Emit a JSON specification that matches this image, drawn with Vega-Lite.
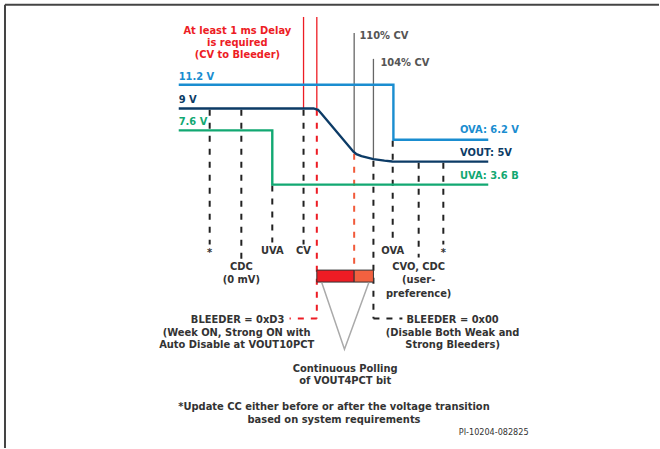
{
  "$schema": "https://vega.github.io/schema/vega-lite/v6.json",
  "width": 660,
  "height": 449,
  "autosize": {"type": "fit", "contains": "padding"},
  "padding": 0,
  "background": "white",
  "config": {"view": {"stroke": null}},
  "datasets": {
    "frame": [
      {"x": 5, "y": 4.7, "x2": 660, "y2": 4.7},
      {"x": 5, "y": 4.7, "x2": 5, "y2": 449}
    ],
    "delay": [
      {"x": 304, "y": 17, "x2": 304, "y2": 108.7},
      {"x": 317.3, "y": 17, "x2": 317.3, "y2": 108.7}
    ],
    "thresholds": [
      {"x": 354.7, "y": 33, "x2": 354.7, "y2": 152},
      {"x": 374, "y": 59, "x2": 374, "y2": 159}
    ],
    "markers": [
      {"x": 210, "y": 110, "x2": 210, "y2": 245},
      {"x": 241.7, "y": 110, "x2": 241.7, "y2": 262},
      {"x": 272.7, "y": 186, "x2": 272.7, "y2": 243},
      {"x": 304, "y": 110, "x2": 304, "y2": 245},
      {"x": 393.3, "y": 141, "x2": 393.3, "y2": 240},
      {"x": 419.3, "y": 163, "x2": 419.3, "y2": 258},
      {"x": 444, "y": 163, "x2": 444, "y2": 245},
      {"x": 374, "y": 161, "x2": 374, "y2": 319.3},
      {"x": 374, "y": 319.3, "x2": 403, "y2": 319.3}
    ],
    "bleedOn": [
      {"x": 317.3, "y": 110, "x2": 317.3, "y2": 319.3},
      {"x": 317.3, "y": 319.3, "x2": 290, "y2": 319.3}
    ],
    "poll": [
      {"x": 354.7, "y": 154, "x2": 354.7, "y2": 270.7}
    ],
    "rails": [
      {"level": "OVA", "o": 1, "x": 179, "y": 85},
      {"level": "OVA", "o": 2, "x": 394, "y": 85},
      {"level": "OVA", "o": 3, "x": 394, "y": 140},
      {"level": "OVA", "o": 4, "x": 489, "y": 140},
      {"level": "VOUT", "o": 1, "x": 179, "y": 108.7},
      {"level": "VOUT", "o": 2, "x": 314, "y": 108.7},
      {"level": "VOUT", "o": 3, "x": 318.5, "y": 110},
      {"level": "VOUT", "o": 4, "x": 322, "y": 114},
      {"level": "VOUT", "o": 5, "x": 354, "y": 152},
      {"level": "VOUT", "o": 6, "x": 357, "y": 154.5},
      {"level": "VOUT", "o": 7, "x": 362, "y": 156.5},
      {"level": "VOUT", "o": 8, "x": 374, "y": 159.5},
      {"level": "VOUT", "o": 9, "x": 385, "y": 161},
      {"level": "VOUT", "o": 10, "x": 393, "y": 161.8},
      {"level": "VOUT", "o": 11, "x": 489, "y": 162},
      {"level": "UVA", "o": 1, "x": 179, "y": 130.7},
      {"level": "UVA", "o": 2, "x": 272.7, "y": 130.7},
      {"level": "UVA", "o": 3, "x": 272.7, "y": 185},
      {"level": "UVA", "o": 4, "x": 489, "y": 185}
    ],
    "box": [
      {"part": "on", "x": 317.3, "x2": 354.7, "y": 270.7, "y2": 282.7},
      {"part": "poll", "x": 354.7, "x2": 374, "y": 270.7, "y2": 282.7}
    ],
    "funnel": [
      {"o": 1, "x": 322.3, "y": 283.3},
      {"o": 2, "x": 345, "y": 350},
      {"o": 3, "x": 369.3, "y": 283.3}
    ],
    "railLabels": [
      {"level": "OVA", "x": 179, "y": 76.7, "t": "11.2 V"},
      {"level": "VOUT", "x": 179, "y": 100, "t": "9 V"},
      {"level": "UVA", "x": 179, "y": 122.7, "t": "7.6 V"},
      {"level": "OVA", "x": 460.7, "y": 130.7, "t": "OVA: 6.2 V"},
      {"level": "VOUT", "x": 460.7, "y": 153.3, "t": "VOUT: 5V"},
      {"level": "UVA", "x": 460.7, "y": 176.7, "t": "UVA: 3.6 B"}
    ],
    "thrLabels": [
      {"x": 360, "y": 36, "t": "110% CV"},
      {"x": 381, "y": 63.3, "t": "104% CV"}
    ],
    "delayText": [
      {"x": 237.7, "y": 30.7, "t": "At least 1 ms Delay"},
      {"x": 237.7, "y": 43.3, "t": "is required"},
      {"x": 237.7, "y": 55, "t": "(CV to Bleeder)"}
    ],
    "notes": [
      {"x": 210, "y": 254, "t": "*"},
      {"x": 241.7, "y": 268, "t": "CDC"},
      {"x": 241.7, "y": 280.7, "t": "(0 mV)"},
      {"x": 272.7, "y": 251.7, "t": "UVA"},
      {"x": 304, "y": 251.7, "t": "CV"},
      {"x": 393.3, "y": 251.7, "t": "OVA"},
      {"x": 444, "y": 254, "t": "*"},
      {"x": 419.3, "y": 267.8, "t": "CVO, CDC"},
      {"x": 419.3, "y": 281, "t": "(user-"},
      {"x": 419.3, "y": 294.3, "t": "preference)"},
      {"x": 238, "y": 321, "t": "BLEEDER = 0xD3"},
      {"x": 237, "y": 333.3, "t": "(Week ON, Strong ON with"},
      {"x": 237, "y": 345.7, "t": "Auto Disable at VOUT10PCT"},
      {"x": 453.3, "y": 321, "t": "BLEEDER = 0x00"},
      {"x": 453.3, "y": 333.3, "t": "(Disable Both Weak and"},
      {"x": 453.3, "y": 345.7, "t": "Strong Bleeders)"},
      {"x": 345.7, "y": 370, "t": "Continuous Polling"},
      {"x": 345.7, "y": 382.3, "t": "of VOUT4PCT bit"},
      {"x": 334.5, "y": 408.3, "t": "*Update CC either before or after the voltage transition"},
      {"x": 334.5, "y": 420.7, "t": "based on system requirements"}
    ],
    "pi": [
      {"x": 459.5, "y": 433.3, "t": "PI-10204-082825"}
    ]
  },
  "layer": [
    {
      "data": {"name": "frame"},
      "mark": {"type": "rule", "color": "#444", "strokeWidth": 2},
      "encoding": {
        "x": {"field": "x", "type": "quantitative", "scale": {"domain": [0, 660], "nice": false, "zero": false}, "axis": null},
        "y": {"field": "y", "type": "quantitative", "scale": {"domain": [0, 449], "nice": false, "zero": false, "reverse": true}, "axis": null},
        "x2": {"field": "x2"},
        "y2": {"field": "y2"}
      }
    },
    {
      "data": {"name": "markers"},
      "mark": {"type": "rule", "color": "#222", "strokeWidth": 2, "strokeDash": [6, 7]},
      "encoding": {
        "x": {"field": "x", "type": "quantitative", "scale": {"domain": [0, 660], "nice": false, "zero": false}, "axis": null},
        "y": {"field": "y", "type": "quantitative", "scale": {"domain": [0, 449], "nice": false, "zero": false, "reverse": true}, "axis": null},
        "x2": {"field": "x2"},
        "y2": {"field": "y2"}
      }
    },
    {
      "data": {"name": "bleedOn"},
      "mark": {"type": "rule", "color": "#ed1c24", "strokeWidth": 2, "strokeDash": [6, 7]},
      "encoding": {
        "x": {"field": "x", "type": "quantitative", "scale": {"domain": [0, 660], "nice": false, "zero": false}, "axis": null},
        "y": {"field": "y", "type": "quantitative", "scale": {"domain": [0, 449], "nice": false, "zero": false, "reverse": true}, "axis": null},
        "x2": {"field": "x2"},
        "y2": {"field": "y2"}
      }
    },
    {
      "data": {"name": "poll"},
      "mark": {"type": "rule", "color": "#f15a3a", "strokeWidth": 2, "strokeDash": [6, 7]},
      "encoding": {
        "x": {"field": "x", "type": "quantitative", "scale": {"domain": [0, 660], "nice": false, "zero": false}, "axis": null},
        "y": {"field": "y", "type": "quantitative", "scale": {"domain": [0, 449], "nice": false, "zero": false, "reverse": true}, "axis": null},
        "x2": {"field": "x2"},
        "y2": {"field": "y2"}
      }
    },
    {
      "data": {"name": "delay"},
      "mark": {"type": "rule", "color": "#ed1c24", "strokeWidth": 1.3},
      "encoding": {
        "x": {"field": "x", "type": "quantitative", "scale": {"domain": [0, 660], "nice": false, "zero": false}, "axis": null},
        "y": {"field": "y", "type": "quantitative", "scale": {"domain": [0, 449], "nice": false, "zero": false, "reverse": true}, "axis": null},
        "x2": {"field": "x2"},
        "y2": {"field": "y2"}
      }
    },
    {
      "data": {"name": "thresholds"},
      "mark": {"type": "rule", "color": "#666", "strokeWidth": 1.3},
      "encoding": {
        "x": {"field": "x", "type": "quantitative", "scale": {"domain": [0, 660], "nice": false, "zero": false}, "axis": null},
        "y": {"field": "y", "type": "quantitative", "scale": {"domain": [0, 449], "nice": false, "zero": false, "reverse": true}, "axis": null},
        "x2": {"field": "x2"},
        "y2": {"field": "y2"}
      }
    },
    {
      "data": {"name": "rails"},
      "mark": {"type": "line", "strokeWidth": 2.4, "strokeJoin": "miter"},
      "encoding": {
        "x": {"field": "x", "type": "quantitative", "scale": {"domain": [0, 660], "nice": false, "zero": false}, "axis": null},
        "y": {"field": "y", "type": "quantitative", "scale": {"domain": [0, 449], "nice": false, "zero": false, "reverse": true}, "axis": null},
        "order": {"field": "o", "type": "quantitative"},
        "color": {"field": "level", "type": "nominal", "scale": {"domain": ["OVA", "VOUT", "UVA"], "range": ["#1a8dd0", "#0c3b66", "#12a872"]}, "legend": null}
      }
    },
    {
      "data": {"name": "box"},
      "mark": {"type": "rect", "stroke": "#333", "strokeWidth": 1},
      "encoding": {
        "x": {"field": "x", "type": "quantitative", "scale": {"domain": [0, 660], "nice": false, "zero": false}, "axis": null},
        "y": {"field": "y", "type": "quantitative", "scale": {"domain": [0, 449], "nice": false, "zero": false, "reverse": true}, "axis": null},
        "x2": {"field": "x2"},
        "y2": {"field": "y2"},
        "fill": {"field": "part", "type": "nominal", "scale": {"domain": ["on", "poll"], "range": ["#ed1c24", "#f26140"]}, "legend": null}
      }
    },
    {
      "data": {"name": "funnel"},
      "mark": {"type": "line", "color": "#aaaaaa", "strokeWidth": 1.5},
      "encoding": {
        "x": {"field": "x", "type": "quantitative", "scale": {"domain": [0, 660], "nice": false, "zero": false}, "axis": null},
        "y": {"field": "y", "type": "quantitative", "scale": {"domain": [0, 449], "nice": false, "zero": false, "reverse": true}, "axis": null},
        "order": {"field": "o", "type": "quantitative"}
      }
    },
    {
      "data": {"name": "railLabels"},
      "mark": {"type": "text", "align": "left", "baseline": "middle", "font": "DejaVu Sans Condensed, DejaVu Sans", "fontWeight": "bold", "fontSize": 11},
      "encoding": {
        "x": {"field": "x", "type": "quantitative", "scale": {"domain": [0, 660], "nice": false, "zero": false}, "axis": null},
        "y": {"field": "y", "type": "quantitative", "scale": {"domain": [0, 449], "nice": false, "zero": false, "reverse": true}, "axis": null},
        "text": {"field": "t"},
        "color": {"field": "level", "type": "nominal", "scale": {"domain": ["OVA", "VOUT", "UVA"], "range": ["#1a8dd0", "#0c3b66", "#12a872"]}, "legend": null}
      }
    },
    {
      "data": {"name": "thrLabels"},
      "mark": {"type": "text", "align": "left", "baseline": "middle", "font": "DejaVu Sans Condensed, DejaVu Sans", "fontWeight": "bold", "fontSize": 11, "color": "#555"},
      "encoding": {
        "x": {"field": "x", "type": "quantitative", "scale": {"domain": [0, 660], "nice": false, "zero": false}, "axis": null},
        "y": {"field": "y", "type": "quantitative", "scale": {"domain": [0, 449], "nice": false, "zero": false, "reverse": true}, "axis": null},
        "text": {"field": "t"}
      }
    },
    {
      "data": {"name": "delayText"},
      "mark": {"type": "text", "align": "center", "baseline": "middle", "font": "DejaVu Sans Condensed, DejaVu Sans", "fontWeight": "bold", "fontSize": 11, "color": "#ed1c24"},
      "encoding": {
        "x": {"field": "x", "type": "quantitative", "scale": {"domain": [0, 660], "nice": false, "zero": false}, "axis": null},
        "y": {"field": "y", "type": "quantitative", "scale": {"domain": [0, 449], "nice": false, "zero": false, "reverse": true}, "axis": null},
        "text": {"field": "t"}
      }
    },
    {
      "data": {"name": "notes"},
      "mark": {"type": "text", "align": "center", "baseline": "middle", "font": "DejaVu Sans Condensed, DejaVu Sans", "fontWeight": "bold", "fontSize": 11, "color": "#333"},
      "encoding": {
        "x": {"field": "x", "type": "quantitative", "scale": {"domain": [0, 660], "nice": false, "zero": false}, "axis": null},
        "y": {"field": "y", "type": "quantitative", "scale": {"domain": [0, 449], "nice": false, "zero": false, "reverse": true}, "axis": null},
        "text": {"field": "t"}
      }
    },
    {
      "data": {"name": "pi"},
      "mark": {"type": "text", "align": "left", "baseline": "middle", "font": "DejaVu Sans Condensed, DejaVu Sans", "fontSize": 9, "color": "#333"},
      "encoding": {
        "x": {"field": "x", "type": "quantitative", "scale": {"domain": [0, 660], "nice": false, "zero": false}, "axis": null},
        "y": {"field": "y", "type": "quantitative", "scale": {"domain": [0, 449], "nice": false, "zero": false, "reverse": true}, "axis": null},
        "text": {"field": "t"}
      }
    }
  ]
}
